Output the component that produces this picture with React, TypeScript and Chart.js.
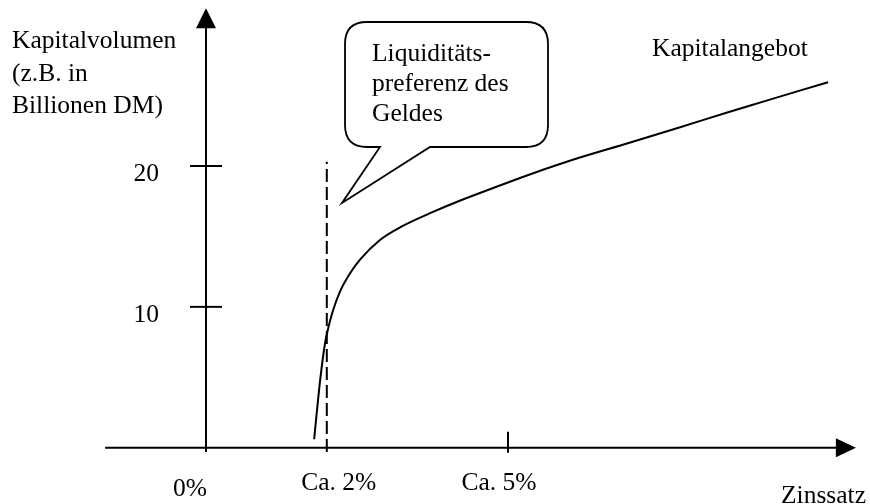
import React, { useEffect, useRef } from "react";
import { Chart, registerables } from "chart.js";

Chart.register(...registerables);

// ---- data ----
const interestRates = [1.79, 1.89, 1.97, 2.03, 2.1, 2.22, 2.38, 2.55, 2.88, 3.26, 3.71, 4.21, 4.7, 5.36, 6.19, 6.97, 7.85, 8.63, 9.17, 9.83, 10.3];
const capitalSupply = [0.6, 4.8, 7.4, 8.6, 9.7, 11.1, 12.35, 13.35, 14.75, 15.75, 16.65, 17.55, 18.35, 19.4, 20.6, 21.6, 22.75, 23.8, 24.5, 25.35, 25.95];

const liquidityRate = [2, 2];
const liquidityVolume = [-0.3, 20.3];

const yTickValues = [10, 20];
const yTickLabels = ["10", "20"];
const xTickValues = [0, 2, 5];
const xTickLabels = ["0%", "Ca. 2%", "Ca. 5%"];

const xAxisRange = [-1.67, 10.76];
const yAxisRange = [-0.3, 31.2];

const yTitleLines = ["Kapitalvolumen", "(z.B. in", "Billionen DM)"];
const bubbleLines = ["Liquiditäts-", "preferenz des", "Geldes"];
const supplyLabel = "Kapitalangebot";
const xTitle = "Zinssatz";

const FONT = '25.5px "Liberation Serif", "Times New Roman", serif';

const axesPlugin = {
  id: "econAxes",
  afterDraw(chart: any) {
    const ctx = chart.ctx;
    const xs = chart.scales.x;
    const ys = chart.scales.y;
    const px = (v: number) => xs.getPixelForValue(v);
    const py = (v: number) => ys.getPixelForValue(v);
    ctx.save();
    ctx.strokeStyle = "#000";
    ctx.fillStyle = "#000";
    ctx.lineWidth = 2;
    ctx.setLineDash([]);

    const x0 = px(0);
    const y0 = py(0);
    // x axis
    const xEnd = px(xAxisRange[1]);
    ctx.beginPath();
    ctx.moveTo(px(xAxisRange[0]), y0);
    ctx.lineTo(xEnd - 15, y0);
    ctx.stroke();
    ctx.beginPath();
    ctx.moveTo(xEnd, y0);
    ctx.lineTo(xEnd - 20, y0 - 9.5);
    ctx.lineTo(xEnd - 20, y0 + 9.5);
    ctx.closePath();
    ctx.fill();
    // y axis
    const yTop = py(yAxisRange[1]);
    ctx.beginPath();
    ctx.moveTo(x0, py(yAxisRange[0]));
    ctx.lineTo(x0, yTop + 15);
    ctx.stroke();
    ctx.beginPath();
    ctx.moveTo(x0, yTop);
    ctx.lineTo(x0 - 10, yTop + 20);
    ctx.lineTo(x0 + 10, yTop + 20);
    ctx.closePath();
    ctx.fill();

    // y ticks
    ctx.font = FONT;
    ctx.textAlign = "right";
    ctx.textBaseline = "alphabetic";
    yTickValues.forEach((v, i) => {
      const y = py(v);
      ctx.beginPath();
      ctx.moveTo(x0 - 16, y);
      ctx.lineTo(x0 + 16, y);
      ctx.stroke();
      ctx.fillText(yTickLabels[i], x0 - 47, y + 15);
    });

    // x ticks
    const xLabelDx = [-16, 12, -9];
    const xLabelDy = [48, 42, 42];
    ctx.textAlign = "center";
    xTickValues.forEach((v, i) => {
      const x = px(v);
      if (v === 5) {
        ctx.beginPath();
        ctx.moveTo(x, y0 - 16);
        ctx.lineTo(x, y0 + 5);
        ctx.stroke();
      }
      ctx.fillText(xTickLabels[i], x + xLabelDx[i], y0 + xLabelDy[i]);
    });

    // axis titles
    ctx.textAlign = "left";
    yTitleLines.forEach((t, i) => ctx.fillText(t, 12, 48 + i * 32.5));
    ctx.fillText(xTitle, 781, 503);
    ctx.fillText(supplyLabel, 652, 56);

    // speech bubble
    const L = 345, R = 548, T = 22, B = 147, r = 22;
    ctx.lineWidth = 1.8;
    ctx.beginPath();
    ctx.moveTo(L + r, T);
    ctx.lineTo(R - r, T);
    ctx.quadraticCurveTo(R, T, R, T + r);
    ctx.lineTo(R, B - r);
    ctx.quadraticCurveTo(R, B, R - r, B);
    ctx.lineTo(430, B);
    ctx.lineTo(342, 203);
    ctx.lineTo(380, B);
    ctx.lineTo(L + r, B);
    ctx.quadraticCurveTo(L, B, L, B - r);
    ctx.lineTo(L, T + r);
    ctx.quadraticCurveTo(L, T, L + r, T);
    ctx.closePath();
    ctx.stroke();
    bubbleLines.forEach((t, i) => ctx.fillText(t, 372, 61 + i * 30));

    ctx.restore();
  },
};

export default function App() {
  const ref = useRef<HTMLCanvasElement | null>(null);
  useEffect(() => {
    if (!ref.current) return;
    const W = 870, H = 504;
    // pixel mapping: 0% at x=206, 60.4 px per %; 0 volume at y=447.7, 14.085 px per unit
    const xmin = -206 / 60.4;
    const xmax = xmin + W / 60.4;
    const ymax = 447.7 / 14.085;
    const ymin = ymax - H / 14.085;
    const chart = new Chart(ref.current, {
      type: "line",
      data: {
        datasets: [
          {
            label: "Kapitalangebot",
            data: interestRates.map((x, i) => ({ x, y: capitalSupply[i] })),
            borderColor: "#000",
            borderWidth: 2,
            pointRadius: 0,
            cubicInterpolationMode: "monotone",
            fill: false,
          },
          {
            label: "Liquiditätspreferenz",
            data: liquidityRate.map((x, i) => ({ x, y: liquidityVolume[i] })),
            borderColor: "#000",
            borderWidth: 2,
            borderDash: [13, 5],
            pointRadius: 0,
            tension: 0,
            fill: false,
          },
        ],
      },
      options: {
        responsive: false,
        animation: false,
        devicePixelRatio: 1,
        layout: { padding: 0 },
        plugins: { legend: { display: false }, tooltip: { enabled: false } },
        scales: {
          x: { type: "linear", display: false, min: xmin, max: xmax },
          y: { type: "linear", display: false, min: ymin, max: ymax },
        },
      },
      plugins: [axesPlugin],
    });
    return () => chart.destroy();
  }, []);
  return (
    <div style={{ position: "fixed", left: 0, top: 0, width: 870, height: 504, background: "#fff" }}>
      <canvas ref={ref} width={870} height={504} style={{ display: "block" }} />
    </div>
  );
}
